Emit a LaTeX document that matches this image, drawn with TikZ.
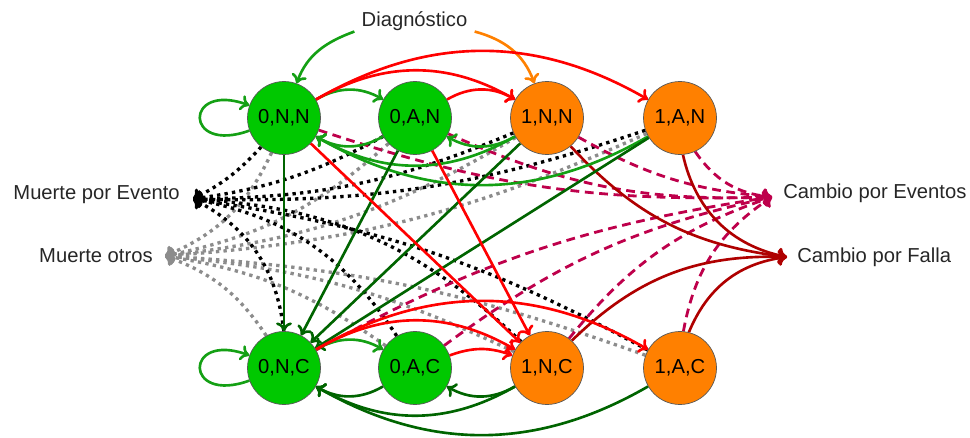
\documentclass[tikz,border=0pt]{standalone}
\usepackage{fontspec}
\setmainfont{Liberation Sans}
\usetikzlibrary{arrows.meta}
\pgfdeclarelayer{edges}
\pgfsetlayers{edges,main}
\definecolor{nodegreen}{RGB}{0,200,0}
\definecolor{nodeorange}{RGB}{255,128,0}
\definecolor{lgreen}{RGB}{20,160,20}
\definecolor{dgreen}{RGB}{0,100,0}
\definecolor{dred}{RGB}{175,0,0}
\definecolor{evpurple}{RGB}{190,0,75}
\definecolor{dotgrey}{RGB}{140,140,140}
\begin{document}
\begin{tikzpicture}[x=0.02cm,y=0.02cm,
  font=\fontsize{11.5}{14}\selectfont,
  state/.style={circle,draw=black!65,line width=0.4pt,minimum size=1.46cm,inner sep=0pt},
  gstate/.style={state,fill=nodegreen},
  ostate/.style={state,fill=nodeorange},
  tip/.style={-{To[length=5pt,width=9pt]}},
  solidarr/.style={tip,line width=1.5pt},
  lgarr/.style={solidarr,draw=lgreen},
  dgarr/.style={solidarr,draw=dgreen},
  rdarr/.style={solidarr,draw=red},
  drarr/.style={solidarr,draw=dred},
  oarr/.style={solidarr,draw=nodeorange},
  bdot/.style={tip,line width=1.9pt,dash pattern=on 1.9pt off 2.4pt,draw=black},
  gdot/.style={tip,line width=1.9pt,dash pattern=on 1.9pt off 2.4pt,draw=dotgrey},
  pdash/.style={tip,line width=1.6pt,dash pattern=on 5pt off 3.2pt,draw=evpurple},
  lbl/.style={inner sep=0pt,text=black!85}]
\useasboundingbox (0,0) rectangle (970,437);

% states
\node[gstate] (nn0) at (284,319) {0,N,N};
\node[gstate] (an0) at (415,319) {0,A,N};
\node[ostate] (nn1) at (547,319) {1,N,N};
\node[ostate] (an1) at (680,319) {1,A,N};
\node[gstate] (nc0) at (284,69) {0,N,C};
\node[gstate] (ac0) at (415,69) {0,A,C};
\node[ostate] (nc1) at (547,69) {1,N,C};
\node[ostate] (ac1) at (680,69) {1,A,C};

% outcome labels and the points the arrows meet at
\node[lbl,anchor=base,inner xsep=0.14cm] (dg) at (414.5,410) {Diagnóstico};
\node[lbl,anchor=base east] (lme) at (180,238) {Muerte por Evento};
\coordinate (me) at (193,238);
\node[lbl,anchor=base east] (lmo) at (153,175) {Muerte otros};
\coordinate (mo) at (165,181);
\node[lbl,anchor=base west] (lce) at (783,239) {Cambio por Eventos};
\coordinate (ce) at (772,240);
\node[lbl,anchor=base west] (lcf) at (797,175) {Cambio por Falla};
\coordinate (cf) at (787,180);

\begin{pgfonlayer}{edges}
% death by other causes
\draw[gdot] (nn0) to[bend left=21] (mo);
\draw[gdot] (an0) to[bend left=15] (mo);
\draw[gdot] (nn1) to[bend left=12] (mo);
\draw[gdot] (an1) to[bend left=10] (mo);
\draw[gdot] (nc0) to[bend right=18] (mo);
\draw[gdot] (ac0) to[bend right=13] (mo);
\draw[gdot] (nc1) to[bend right=10] (mo);
\draw[gdot] (ac1) to[bend right=8] (mo);

% death by event
\draw[bdot] (nn0) to[bend left=10] (me);
\draw[bdot] (an0) to[bend left=10] (me);
\draw[bdot] (nn1) to[bend left=11] (me);
\draw[bdot] (an1) to[bend left=10] (me);
\draw[bdot] (nc0) to[bend right=28] (me);
\draw[bdot] (ac0) to[bend right=23] (me);
\draw[bdot] (nc1) to[bend right=20] (me);
\draw[bdot] (ac1) to[bend right=10] (me);

% change due to events
\draw[pdash] (nn0) to[bend right=10] (ce);
\draw[pdash] (an0) to[bend right=13] (ce);
\draw[pdash] (nn1) to[bend right=12] (ce);
\draw[pdash] (an1) to[bend right=25] (ce);
\draw[pdash] (nc0) to[bend left=10] (ce);
\draw[pdash] (ac0) to[bend left=12] (ce);
\draw[pdash] (nc1) to[bend left=16] (ce);
\draw[pdash] (ac1) to[bend left=23] (ce);

% change due to failure
\draw[drarr] (nn1) to[bend right=20] (cf);
\draw[drarr] (an1) to[bend right=33] (cf);
\draw[drarr] (nc1) to[bend left=23] (cf);
\draw[drarr] (ac1) to[bend left=30] (cf);

% diagnosis
\draw[lgarr] (dg.south west) to[out=200,in=70] (nn0);
\draw[oarr] (dg.south east) to[out=-15,in=110] (nn1);

% upper row
\draw[lgarr] (nn0) to[out=200,in=160,min distance=1.4cm] (nn0);
\draw[lgarr] (nn0) to[bend left=30] (an0);
\draw[lgarr] (an0) to[bend left=30] (nn0);
\draw[lgarr] (nn1) to[bend left=30] (an0);
\draw[lgarr] (nn1) to[bend left=30] (nn0);
\draw[lgarr] (an1) to[bend left=30] (nn0);
\draw[rdarr] (nn0) to[bend left=30] (nn1);
\draw[rdarr] (nn0) to[bend left=30] (an1);
\draw[rdarr] (an0) to[bend left=30] (nn1);

% between rows
\draw[dgarr] (nn0) -- (nc0);
\draw[dgarr] (an0) -- (nc0);
\draw[dgarr] (nn1) -- (nc0);
\draw[dgarr] (an1) -- (nc0);
\draw[rdarr] (nn0) -- (nc1);
\draw[rdarr] (an0) -- (nc1);

% lower row
\draw[lgarr] (nc0) to[out=200,in=160,min distance=1.4cm] (nc0);
\draw[lgarr] (nc0) to[bend left=30] (ac0);
\draw[dgarr] (ac0) to[bend left=30] (nc0);
\draw[dgarr] (nc1) to[bend left=30] (ac0);
\draw[dgarr] (nc1) to[bend left=30] (nc0);
\draw[dgarr] (ac1) to[bend left=30] (nc0);
\draw[rdarr] (nc0) to[bend left=30] (nc1);
\draw[rdarr] (nc0) to[bend left=30] (ac1);
\draw[rdarr] (ac0) to[bend left=20] (nc1);
\end{pgfonlayer}
\end{tikzpicture}
\end{document}
